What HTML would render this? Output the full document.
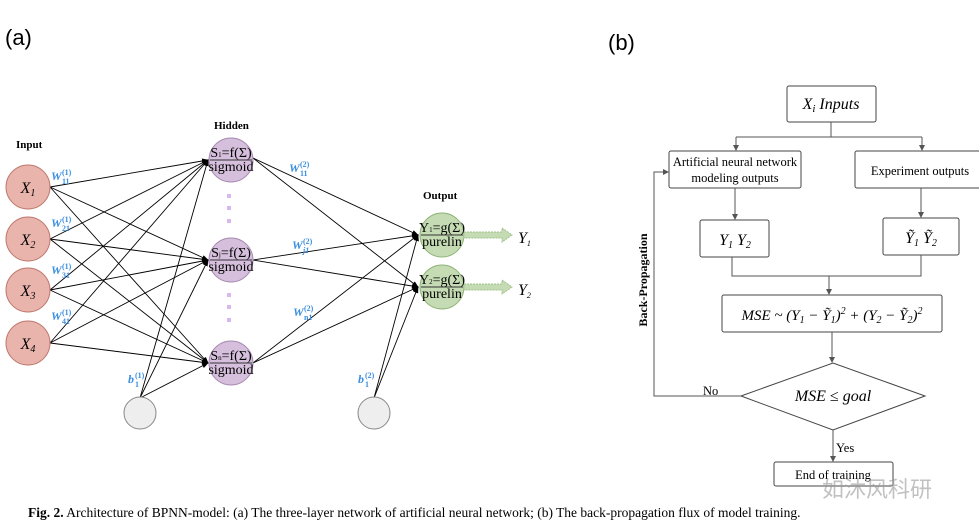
<!DOCTYPE html>
<html><head><meta charset="utf-8"><style>
body{margin:0;background:#fff;width:979px;height:530px;overflow:hidden}
svg{display:block}
text{font-family:"Liberation Serif",serif}
</style></head><body>
<svg width="979" height="530" viewBox="0 0 979 530">
<defs>
<marker id="a" markerWidth="7" markerHeight="7" refX="6" refY="3.5" orient="auto" markerUnits="userSpaceOnUse"><path d="M0,1 L7,3.5 L0,6z" fill="#000"/></marker>
<marker id="g" markerWidth="6" markerHeight="6" refX="5" refY="3" orient="auto" markerUnits="userSpaceOnUse"><path d="M0,0 L6,3 L0,6z" fill="#555"/></marker>
</defs>
<text x="5" y="45" font-size="22" style="font-family:'Liberation Sans',sans-serif">(a)</text>
<text x="608" y="50" font-size="22" style="font-family:'Liberation Sans',sans-serif">(b)</text>
<g stroke="#000" stroke-width="0.9" fill="none" marker-end="url(#a)">
<line x1="50" y1="187" x2="208" y2="160"/><line x1="50" y1="187" x2="208" y2="260"/><line x1="50" y1="187" x2="208" y2="363"/>
<line x1="50" y1="239" x2="208" y2="160"/><line x1="50" y1="239" x2="208" y2="260"/><line x1="50" y1="239" x2="208" y2="363"/>
<line x1="50" y1="290" x2="208" y2="160"/><line x1="50" y1="290" x2="208" y2="260"/><line x1="50" y1="290" x2="208" y2="363"/>
<line x1="50" y1="343" x2="208" y2="160"/><line x1="50" y1="343" x2="208" y2="260"/><line x1="50" y1="343" x2="208" y2="363"/>
<line x1="140" y1="398" x2="208" y2="160"/><line x1="140" y1="398" x2="208" y2="260"/><line x1="140" y1="398" x2="208" y2="363"/>
<line x1="253" y1="158" x2="418" y2="235"/><line x1="253" y1="158" x2="418" y2="287"/>
<line x1="253" y1="260" x2="418" y2="235"/><line x1="253" y1="260" x2="418" y2="287"/>
<line x1="253" y1="363" x2="418" y2="235"/><line x1="253" y1="363" x2="418" y2="287"/>
<line x1="374" y1="398" x2="418" y2="235"/><line x1="374" y1="398" x2="418" y2="287"/>
</g>
<g fill="#e8b4ac" stroke="#c07a70" stroke-width="1">
<circle cx="28" cy="187" r="22"/><circle cx="28" cy="239" r="22"/><circle cx="28" cy="290" r="22"/><circle cx="28" cy="343" r="22"/>
</g>
<g font-style="italic" font-size="16" text-anchor="middle">
<text x="28" y="193">X<tspan font-size="10" dy="3">1</tspan></text>
<text x="28" y="245">X<tspan font-size="10" dy="3">2</tspan></text>
<text x="28" y="296">X<tspan font-size="10" dy="3">3</tspan></text>
<text x="28" y="349">X<tspan font-size="10" dy="3">4</tspan></text>
</g>
<g fill="#d5bfdc" stroke="#a98bb3" stroke-width="1">
<circle cx="231" cy="160" r="22"/><circle cx="231" cy="260" r="22"/><circle cx="231" cy="363" r="22"/>
</g>
<g fill="#c5dbb4" stroke="#8fb477" stroke-width="1">
<circle cx="442" cy="235" r="22"/><circle cx="442" cy="287" r="22"/>
</g>
<g fill="#eee" stroke="#888"><circle cx="140" cy="413" r="16"/><circle cx="374" cy="413" r="16"/></g>
<g font-size="14" text-anchor="middle">
<text x="231" y="157">S<tspan font-size="7">1</tspan>=f(Σ)</text><line x1="210" y1="160" x2="252" y2="160" stroke="#333"/><text x="231" y="171">sigmoid</text>
<text x="231" y="257">S<tspan font-size="7">j</tspan>=f(Σ)</text><line x1="210" y1="260" x2="252" y2="260" stroke="#333"/><text x="231" y="271">sigmoid</text>
<text x="231" y="360">S<tspan font-size="7">n</tspan>=f(Σ)</text><line x1="210" y1="363" x2="252" y2="363" stroke="#333"/><text x="231" y="374">sigmoid</text>
<text x="442" y="232">Y<tspan font-size="7">1</tspan>=g(Σ)</text><line x1="421" y1="235" x2="463" y2="235" stroke="#333"/><text x="442" y="246">purelin</text>
<text x="442" y="284">Y<tspan font-size="7">2</tspan>=g(Σ)</text><line x1="421" y1="287" x2="463" y2="287" stroke="#333"/><text x="442" y="298">purelin</text>
</g>
<g fill="#d9b8f0"><rect x="227" y="194" width="4" height="4"/><rect x="227" y="206" width="4" height="4"/><rect x="227" y="219" width="4" height="4"/>
<rect x="227" y="293" width="4" height="4"/><rect x="227" y="305" width="4" height="4"/><rect x="227" y="318" width="4" height="4"/></g>
<g fill="#c5dbb4" stroke="#9fc08a" stroke-dasharray="2,1">
<path d="M464,232 L502,232 L502,228 L512,235 L502,242 L502,238 L464,238z"/>
<path d="M464,284 L502,284 L502,280 L512,287 L502,294 L502,290 L464,290z"/>
</g>
<text x="518" y="243" font-size="16" font-style="italic">Y<tspan font-size="8" dy="3">1</tspan></text>
<text x="518" y="295" font-size="16" font-style="italic">Y<tspan font-size="8" dy="3">2</tspan></text>
<g font-weight="bold" font-size="11"><text x="16" y="148">Input</text><text x="214" y="129">Hidden</text><text x="423" y="199">Output</text></g>
<g fill="#3b8fe0" font-weight="bold" font-size="8">
<g font-style="italic" font-size="12">
<text x="51" y="180">W</text><text x="51" y="227">W</text><text x="51" y="274">W</text><text x="51" y="320">W</text>
<text x="289" y="172">W</text><text x="292" y="249">W</text><text x="293" y="316">W</text>
<text x="128" y="383">b</text><text x="358" y="383">b</text>
</g>
<text x="62" y="175">(1)</text><text x="62" y="184">11</text>
<text x="62" y="222">(1)</text><text x="62" y="231">21</text>
<text x="62" y="269">(1)</text><text x="62" y="278">31</text>
<text x="62" y="315">(1)</text><text x="62" y="324">41</text>
<text x="300" y="167">(2)</text><text x="300" y="176">11</text>
<text x="303" y="244">(2)</text><text x="303" y="253" font-style="italic">j1</text>
<text x="304" y="311">(2)</text><text x="304" y="320">n1</text>
<text x="135" y="378">(1)</text><text x="135" y="387">1</text>
<text x="365" y="378">(2)</text><text x="365" y="387">1</text>
</g>
<g stroke="#444" stroke-width="1" fill="#fff">
<rect x="787" y="86" width="89" height="36" rx="2"/>
<rect x="669" y="151" width="132" height="37" rx="2"/>
<rect x="855" y="151" width="130" height="37" rx="2"/>
<rect x="700" y="220" width="69" height="37" rx="2"/>
<rect x="883" y="218" width="76" height="37" rx="2"/>
<rect x="722" y="295" width="220" height="37" rx="2"/>
<path d="M741,396 L833,363 L925,396 L833,430z"/>
<rect x="774" y="462" width="119" height="24" rx="2"/>
</g>
<g stroke="#555" fill="none" stroke-width="1">
<path d="M831,122 V137 M736,137 H922"/>
<path d="M736,137 V150" marker-end="url(#g)"/><path d="M922,137 V150" marker-end="url(#g)"/>
<path d="M735,188 V219" marker-end="url(#g)"/><path d="M921,188 V217" marker-end="url(#g)"/>
<path d="M732,257 V276 H921 V255 M829,276 V294" marker-end="url(#g)"/>
<path d="M832,332 V362" marker-end="url(#g)"/>
<path d="M741,396 H654 V172 H668" marker-end="url(#g)"/>
<path d="M833,430 V461" marker-end="url(#g)"/>
</g>
<g text-anchor="middle">
<text x="831" y="109" font-size="16" font-style="italic">X<tspan font-size="11" dy="3">i</tspan><tspan dy="-3">  Inputs</tspan></text>
<text x="735" y="166" font-size="12.5">Artificial neural network</text>
<text x="735" y="182" font-size="12.5">modeling outputs</text>
<text x="920" y="175" font-size="12.5">Experiment outputs</text>
<text x="735" y="245" font-size="16" font-style="italic">Y<tspan font-size="10" dy="3">1</tspan><tspan dy="-3">  Y</tspan><tspan font-size="10" dy="3">2</tspan></text>
<text x="921" y="243" font-size="16" font-style="italic">Ỹ<tspan font-size="10" dy="3">1</tspan><tspan dy="-3">  Ỹ</tspan><tspan font-size="10" dy="3">2</tspan></text>
<text x="832" y="320" font-size="15" font-style="italic">MSE ~ (Y<tspan font-size="10" dy="3">1</tspan><tspan dy="-3"> − Ỹ</tspan><tspan font-size="10" dy="3">1</tspan><tspan dy="-3">)</tspan><tspan font-size="10" dy="-6">2</tspan><tspan dy="6"> + (Y</tspan><tspan font-size="10" dy="3">2</tspan><tspan dy="-3"> − Ỹ</tspan><tspan font-size="10" dy="3">2</tspan><tspan dy="-3">)</tspan><tspan font-size="10" dy="-6">2</tspan></text>
<text x="833" y="401" font-size="16" font-style="italic">MSE ≤ goal</text>
<text x="833" y="479" font-size="12.5">End of training</text>
</g>
<text x="703" y="395" font-size="12.5">No</text>
<text x="836" y="452" font-size="12.5">Yes</text>
<text transform="translate(647,280) rotate(-90)" text-anchor="middle" font-size="12" font-weight="bold">Back-Propagation</text>
<text x="822" y="497" font-size="22" fill="#999" style="font-family:'Noto Sans CJK SC',sans-serif" opacity="0.6">如沐风科研</text>
<text x="28" y="517" font-size="13.5"><tspan font-weight="bold">Fig. 2.</tspan>  Architecture of BPNN-model: (a) The three-layer network of artificial neural network; (b) The back-propagation flux of model training.</text>
</svg>
</body></html>
